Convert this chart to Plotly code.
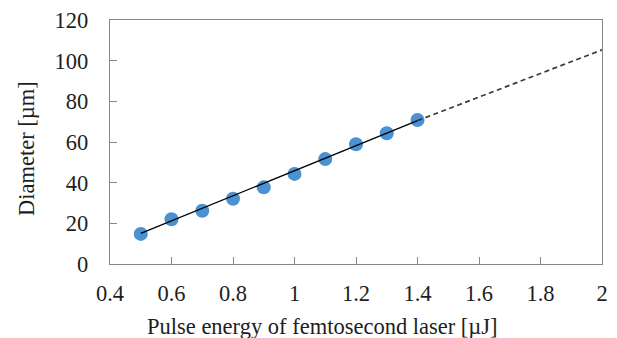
import plotly.graph_objects as go

energy = [0.5, 0.6, 0.7, 0.8, 0.9, 1.0, 1.1, 1.2, 1.3, 1.4]
diameter = [14.8, 22.0, 26.2, 32.1, 37.7, 44.3, 51.6, 58.9, 64.3, 70.8]

fit_x = [0.5, 1.4]
fit_y = [15.1, 70.5]
extrap_x = [1.4, 2.0]
extrap_y = [70.5, 105.3]

x_title = "Pulse energy of femtosecond laser [µJ]"
y_title = "Diameter [µm]"

font_family = "Liberation Serif, Times New Roman, serif"
axis_color = "#878787"

fig = go.Figure()
fig.add_trace(go.Scatter(x=energy, y=diameter, mode="markers",
                         marker=dict(size=14, color="#4A92D2"),
                         showlegend=False))
fig.add_trace(go.Scatter(x=fit_x, y=fit_y, mode="lines",
                         line=dict(color="#000000", width=1.3),
                         showlegend=False))
fig.add_trace(go.Scatter(x=extrap_x, y=extrap_y, mode="lines",
                         line=dict(color="#3a3a3a", width=1.7, dash="5px,3.5px"),
                         showlegend=False))

fig.update_layout(
    width=617, height=338,
    margin=dict(l=110, r=15, t=20, b=74),
    paper_bgcolor="white", plot_bgcolor="white",
    font=dict(family=font_family, size=22.5, color="#1e1e1e"),
)
fig.update_xaxes(
    range=[0.4, 2.0], dtick=0.2, tick0=0.4,
    showgrid=False, zeroline=False, automargin=False,
    showline=True, linecolor=axis_color, linewidth=1.3, mirror=True,
    ticks="inside", ticklen=7, tickcolor=axis_color, tickwidth=1,
    ticklabelstandoff=9,
)
fig.update_yaxes(
    range=[0, 120], dtick=20,
    showgrid=False, zeroline=False, automargin=False,
    showline=True, linecolor=axis_color, linewidth=1.3, mirror=True,
    ticks="inside", ticklen=7, tickcolor=axis_color, tickwidth=1,
    ticklabelstandoff=16,
)

fig.add_annotation(text=x_title, xref="paper", yref="paper",
                   x=(322 - 110) / 492, y=0, xanchor="center", yanchor="middle",
                   yshift=-62, showarrow=False, font=dict(size=22.5))
fig.add_annotation(text=y_title, xref="paper", yref="paper",
                   x=0, y=(264 - 149) / 244, xanchor="center", yanchor="middle",
                   xshift=-84, textangle=-90, showarrow=False, font=dict(size=22.5))

fig.write_html("out.html",
               config={"displayModeBar": False},
               post_script="document.body.style.margin='0';document.body.style.overflow='hidden';")
